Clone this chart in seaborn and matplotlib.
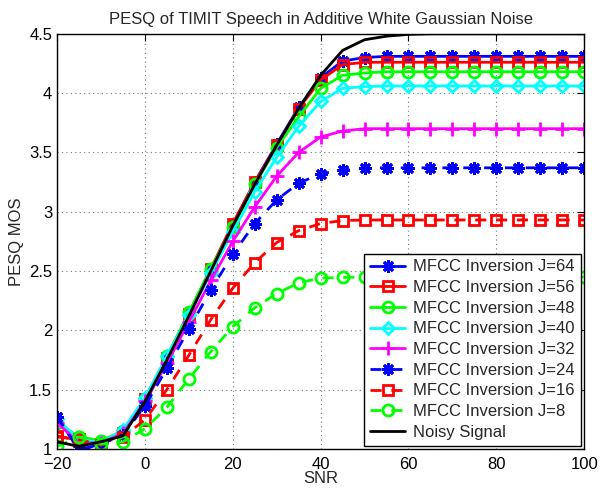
import matplotlib
matplotlib.use("Agg")
import matplotlib.pyplot as plt
import seaborn as sns
import pandas as pd

# SNR axis (dB)
snr = [-20, -15, -10, -5, 0, 5, 10, 15, 20, 25, 30, 35, 40, 45, 50,
       55, 60, 65, 70, 75, 80, 85, 90, 95, 100]

# PESQ MOS
j64 = [1.27, 0.99, 1.04, 1.14, 1.38, 1.76, 2.13, 2.51, 2.89, 3.25, 3.57, 3.88, 4.13, 4.27, 4.30] + [4.31] * 10
j56 = [1.11, 1.07, 1.03, 1.13, 1.42, 1.77, 2.14, 2.52, 2.90, 3.25, 3.56, 3.87, 4.11, 4.24] + [4.26] * 11
j48 = [1.22, 1.10, 1.07, 1.15, 1.42, 1.78, 2.15, 2.52, 2.87, 3.23, 3.54, 3.80, 4.04, 4.15, 4.17] + [4.18] * 10
j40 = [1.25, 1.08, 1.05, 1.16, 1.43, 1.78, 2.13, 2.48, 2.83, 3.17, 3.46, 3.72, 3.93, 4.04, 4.055] + [4.06] * 10
j32 = [1.22, 1.05, 1.05, 1.13, 1.40, 1.72, 2.07, 2.42, 2.75, 3.04, 3.30, 3.50, 3.63, 3.68] + [3.70] * 11
j24 = [1.27, 0.99, 1.04, 1.12, 1.36, 1.68, 2.01, 2.34, 2.64, 2.90, 3.10, 3.24, 3.32, 3.35] + [3.37] * 11
j16 = [1.10, 1.08, 1.03, 1.10, 1.245, 1.50, 1.79, 2.09, 2.355, 2.57, 2.74, 2.84, 2.90, 2.925] + [2.93] * 11
j8 = [1.02, 1.10, 1.04, 1.06, 1.17, 1.35, 1.59, 1.82, 2.03, 2.19, 2.31, 2.40, 2.44, 2.445] + [2.45] * 11
noisy = [1.06, 1.02, 1.06, 1.11, 1.40, 1.75, 2.12, 2.50, 2.88, 3.23, 3.56, 3.87, 4.15, 4.36, 4.45, 4.48, 4.495] + [4.50] * 8

labels = ["MFCC Inversion J=64", "MFCC Inversion J=56", "MFCC Inversion J=48",
          "MFCC Inversion J=40", "MFCC Inversion J=32", "MFCC Inversion J=24",
          "MFCC Inversion J=16", "MFCC Inversion J=8", "Noisy Signal"]
series = [j64, j56, j48, j40, j32, j24, j16, j8, noisy]

xticks = [-20, 0, 20, 40, 60, 80, 100]
yticks = [1, 1.5, 2, 2.5, 3, 3.5, 4, 4.5]
ytick_labels = ["1", "1.5", "2", "2.5", "3", "3.5", "4", "4.5"]

sns.set_style("white")
plt.rcParams['font.family'] = ['Liberation Sans', 'DejaVu Sans']

# styles (colour, marker, marker size, dashed?)
asterisk = (8, 2, 0)
estilos = [
    ("#0000ff", asterisk, 9, False),
    ("#ff0000", "s", 7, False),
    ("#00ff00", "o", 8, False),
    ("#00ffff", "D", 6.5, False),
    ("#ff00ff", "+", 10, False),
    ("#0000ff", asterisk, 9, True),
    ("#ff0000", "s", 7, True),
    ("#00ff00", "o", 8, True),
    ("#000000", None, 0, False),
]

fig = plt.figure(figsize=(6.01, 4.90), dpi=100)
ax = fig.add_axes([0.095, 0.084, 0.877, 0.847])

for lab, vals, (cor, mk, ms, tracejado) in zip(labels, series, estilos):
    df = pd.DataFrame({"snr": snr, "pesq": vals})
    kw = dict(color=cor, linewidth=2, label=lab, ax=ax)
    if mk is not None:
        kw.update(marker=mk, markersize=ms, markerfacecolor="none",
                  markeredgecolor=cor, markeredgewidth=2)
    if tracejado:
        kw.update(linestyle=(0, (4, 3.5)))
    sns.lineplot(data=df, x="snr", y="pesq", **kw)

ax.set_xlim(-20, 100)
ax.set_ylim(1, 4.5)
ax.set_xticks(xticks)
ax.set_yticks(yticks)
ax.set_yticklabels(ytick_labels)
ax.tick_params(direction="in", length=5, width=0.8, labelsize=12, top=True, right=True,
               colors="black")
ax.tick_params(axis="x", pad=6)
ax.grid(True, linestyle=(0, (1, 3)), color="#777777", linewidth=0.8)
for s in ax.spines.values():
    s.set_visible(True)
    s.set_color("black")
    s.set_linewidth(1)

ax.set_title("PESQ of TIMIT Speech in Additive White Gaussian Noise", fontsize=12, pad=7)
ax.set_xlabel("SNR", fontsize=12, labelpad=-1)
ax.set_ylabel("PESQ MOS", fontsize=12, labelpad=4)

leg = ax.legend(loc="lower right", fontsize=12, frameon=True, fancybox=False,
                edgecolor="black", framealpha=1, handlelength=2.1,
                borderpad=0.35, labelspacing=0.34, handletextpad=0.5,
                borderaxespad=0.2)
leg.get_frame().set_linewidth(1)

fig.savefig("out.png", dpi=100)
